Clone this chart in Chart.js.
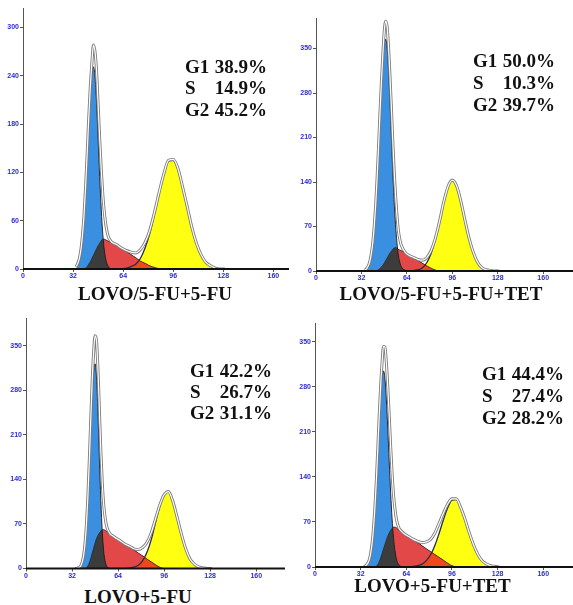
<!DOCTYPE html>
<html><head><meta charset="utf-8">
<script src="https://cdn.jsdelivr.net/npm/chart.js@4.4.1/dist/chart.umd.min.js"></script>
<style>
html,body{margin:0;padding:0;background:#fff;}
body{width:573px;height:605px;position:relative;overflow:hidden;}
canvas{position:absolute;}
.ann{position:absolute;font-family:"Liberation Serif","Times New Roman",serif;font-weight:bold;font-size:19px;color:#111;width:82px;z-index:2;}
.ann .row{display:flex;justify-content:space-between;}
.lab{position:absolute;width:300px;text-align:center;white-space:nowrap;font-family:"Liberation Serif","Times New Roman",serif;font-weight:bold;font-size:19px;line-height:21.5px;color:#111;z-index:2;}
</style></head><body>
<canvas id="c1" width="290" height="285" style="left:0;top:0"></canvas>
<canvas id="c2" width="283" height="285" style="left:290px;top:0"></canvas>
<canvas id="c3" width="286" height="285" style="left:0;top:300px"></canvas>
<canvas id="c4" width="283" height="285" style="left:290px;top:300px"></canvas>
<div id="texts"></div>
<script>
// DNA channel grid (shared by all panels)
const xs = [34,35,36,37,38,39,40,41,42,43,44,45,46,47,48,49,50,51,52,53,54,55,56,57,58,59,60,
            63,66,69,72,75,78,81,84,87,90,93,96,99,102,105,108,111,114,117,120,123,126,129];
const xTicks = [0,32,64,96,128,160];
const p1YTicks = [0,60,120,180,240,300];
const yTicks350 = [0,70,140,210,280,350];

// Panel 1: LOVO/5-FU+5-FU
const p1G1 = [3,6.5,13,24,42,67,101,140,181,217,242,251,239,207,162,115,74,43,23,11,5,2,0,0,0,0,0,
              0,0,0,0,0,0,0,0,0,0,0,0,0,0,0,0,0,0,0,0,0,0,0];
const p1S  = [0,0,0,0,0,0,1,3,6,9,13,17,21,25,29,32,35,37,37,36,35,34,33,32,31,30,29,
              26,22,18,14,10,7,4,2,0.5,0,0,0,0,0,0,0,0,0,0,0,0,0,0];
const p1G2 = [0,0,0,0,0,0,0,0,0,0,0,0,0,0,0,0,0,0,0,0,0,0,0,0,0,0,0,
              0,1,3,6,13,26,44,68,94,118,134,135,124,102,76,51,31,17,8,4,1,0,0];
const p1Tot= [3,7,13,24,42,67,102,143,187,226,255,278,270,246,205,162,124,92,70,54,44,38,35,33,32,31,30,
              26,23,21,20,24,33,48,70,95,118,135,136,125,102,77,51,31,17,8,4,1,0,0];

// Panel 2: LOVO/5-FU+5-FU+TET
const p2G1 = [1,2,5,9,16,28,45,70,103,144,191,242,289,329,356,365,353,320,271,216,160,112,73,45,25,14,7,
              1,0,0,0,0,0,0,0,0,0,0,0,0,0,0,0,0,0,0,0,0,0,0];
const p2S  = [0,0,0,0,0,0,0,0,0,1,2,4,6,9,12,16,20,24,28,31,34,36,37,36,34,33,32,
              28,24,20,16,12,8,4.5,1.5,0,0,0,0,0,0,0,0,0,0,0,0,0,0,0];
const p2G2 = [0,0,0,0,0,0,0,0,0,0,0,0,0,0,0,0,0,0,0,0,0,0,0,0,0,0,0,
              0,0,1,2,5,13,27,49,78,109,133,142,133,109,78,49,27,13,5,2,1,0,0];
const p2Tot= [1,2,5,9,16,28,45,70,103,145,193,246,295,338,375,393,386,356,312,262,208,160,120,88,64,50,41,
              29,24,21,18,17,21,32,51,78,109,133,143,134,110,79,50,28,13,5,2,1,0,0];

// Panel 3: LOVO+5-FU
const p3G1 = [0,0,1,2,4,10,20,39,68,109,161,218,271,308,322,301,245,174,107,58,27,11,4,1,0,0,0,
              0,0,0,0,0,0,0,0,0,0,0,0,0,0,0,0,0,0,0,0,0,0,0];
const p3S  = [0,0,0,0,0,0,0,0,1,4,9,16,24,32,40,47,52,56,59,61,61,60,58,56,55,53,52,
              47,43,38,33.5,29,24.5,20,15,10.5,6,2,0,0,0,0,0,0,0,0,0,0,0,0];
const p3G2 = [0,0,0,0,0,0,0,0,0,0,0,0,0,0,0,0,0,0,0,0,0,0,0,0,0,0,0,
              0,0,0,1,2,5,12,25,45,72,98,116,120,106,81,54,31,15,7,2.5,1,0,0];
const p3Tot= [0,0,1,2,4,10,20,39,69,113,170,234,295,340,366,358,314,250,185,135,100,80,67,60,56,53,52,
              47,43,38,35,31,30,33,41,56,78,100,116,121,106,81,54,31,15,7,2.5,1,0,0];

// Panel 4: LOVO+5-FU+TET
const p4G1 = [0,1,3,6,11,21,37,61,93,134,180,227,267,295,305,293,261,216,164,116,76,46,26,13,6,3,1,
              0,0,0,0,0,0,0,0,0,0,0,0,0,0,0,0,0,0,0,0,0,0,0];
const p4S  = [0,0,0,0,0,0,0,0,0,1,4,8,14,21,28,35,42,48,53,57,60,62,62,61,59,57,56,
              51,47,42,38,33,28.5,24,19.5,15,10.5,6,2,0.5,0,0,0,0,0,0,0,0,0,0];
const p4G2 = [0,0,0,0,0,0,0,0,0,0,0,0,0,0,0,0,0,0,0,0,0,0,0,0,0,0,0,
              0,0,1,2,4.5,10,19,33.5,52.5,73.5,92,104,105,93,75,54,35,20,10,5,2,1,0];
const p4Tot= [0,1,3,6,11,21,37,61,93,135,184,235,281,318,343,342,318,280,236,188,146,113,91,75,66,60,57,
              51,47,43,40,38,39,43,53,68,84,98,106,106,93,75,54,35,20,10,5,2,1,0];

const titles = ["LOVO/5-FU+5-FU","LOVO/5-FU+5-FU+TET","LOVO+5-FU","LOVO+5-FU+TET"];
const stats = [
  [["G1","38.9%"],["S","14.9%"],["G2","45.2%"]],
  [["G1","50.0%"],["S","10.3%"],["G2","39.7%"]],
  [["G1","42.2%"],["S","26.7%"],["G2","31.1%"]],
  [["G1","44.4%"],["S","27.4%"],["G2","28.2%"]]
];

// layout (positions only)
const panels = [
  {id:'c1', g1:p1G1, s:p1S, g2:p1G2, tot:p1Tot, yT:p1YTicks, yMax:324, xMax:170, yW:23, xH:16, padTop:8, padRight:1,
   ann:{left:185, top:55.6, lh:21.75}, lab:{cx:155, top:282.6}},
  {id:'c2', g1:p2G1, s:p2S, g2:p2G2, tot:p2Tot, yT:yTicks350, yMax:398, xMax:181, yW:26, xH:14, padTop:18, padRight:0,
   ann:{left:473, top:50, lh:22}, lab:{cx:441, top:283}},
  {id:'c3', g1:p3G1, s:p3S, g2:p3G2, tot:p3Tot, yT:yTicks350, yMax:394, xMax:180, yW:26, xH:16.5, padTop:18, padRight:1,
   ann:{left:190, top:359.6, lh:21}, lab:{cx:138, top:585.6}},
  {id:'c4', g1:p4G1, s:p4S, g2:p4G2, tot:p4Tot, yT:yTicks350, yMax:379.5, xMax:180.8, yW:25, xH:18, padTop:23, padRight:0,
   ann:{left:482, top:363, lh:21.75}, lab:{cx:432.5, top:574.6}}
];

const COL = {blue:'#3a8fe0', yellow:'#ffff12', black:'#3c3c3c', red:'#e34848', orange:'#f0481a', none:'rgba(0,0,0,0)'};

const axisLine = {
  id:'axisLine',
  afterDatasetsDraw(chart){
    const {ctx, chartArea:a} = chart;
    ctx.save();
    ctx.strokeStyle = '#111'; ctx.lineWidth = 2;
    ctx.beginPath(); ctx.moveTo(a.left, a.bottom); ctx.lineTo(a.right, a.bottom); ctx.stroke();
    ctx.restore();
  }
};

Chart.defaults.font.family = '"Liberation Sans", Arial, sans-serif';

function pts(arr, from){ return arr.map((v,i)=>({x: xs[i], y: (from===undefined || i>=from) ? v : null})); }

panels.forEach(p => {
  const pk = p.g1.indexOf(Math.max(...p.g1));
  let cut = pk; while (cut < p.g1.length && p.g1[cut] !== 0) cut++;
  const base = {type:'line', pointRadius:0, borderWidth:0, borderColor:COL.none, cubicInterpolationMode:'monotone', spanGaps:false};
  const ds = [
    {...base, data:pts(p.g1), fill:'origin', backgroundColor:COL.blue},                                   // 0
    {...base, data:pts(p.g2), fill:'origin', backgroundColor:COL.yellow},                                 // 1
    {...base, data:pts(p.s), fill:'origin', backgroundColor:COL.black},                                   // 2
    {...base, data:pts(p.s), fill:{target:0, above:COL.red, below:COL.none}},                             // 3
    {...base, data:pts(p.s, cut+1), fill:'origin', backgroundColor:COL.orange},                           // 4
    {...base, data:pts(p.s, cut), fill:{target:1, above:COL.red, below:COL.none}},                        // 5
    {...base, data:pts(p.g2), fill:false, borderColor:'#2a2a48', borderWidth:1.3},                         // 6
    {...base, data:pts(p.s), fill:false, borderColor:'#2a2a2a', borderWidth:0.8},                          // 7
    {...base, data:pts(p.g1), fill:false, borderColor:'#1e1e1e', borderWidth:0.9},                         // 8
    {...base, data:pts(p.tot), fill:false, borderColor:'#7c7c7c', borderWidth:3},                          // 9
    {...base, data:pts(p.tot), fill:false, borderColor:'#ffffff', borderWidth:1.2}                         // 10
  ];
  ds.forEach((d,i)=>{ d.order = 20 - i; });
  const tickFont = {size:7, weight:'bold'};
  new Chart(document.getElementById(p.id), {
    type:'line',
    data:{datasets:ds},
    options:{
      responsive:false, animation:false, devicePixelRatio:1,
      layout:{padding:{top:p.padTop, right:p.padRight, left:0, bottom:0}},
      plugins:{legend:{display:false}, tooltip:{enabled:false}},
      scales:{
        x:{type:'linear', min:0, max:p.xMax,
           afterBuildTicks:s=>{ s.ticks = xTicks.map(v=>({value:v})); },
           afterFit:s=>{ s.height = p.xH; },
           ticks:{autoSkip:false, maxRotation:0, font:tickFont, color:'#2c2cd0', padding:0},
           grid:{display:true, drawOnChartArea:false, drawTicks:true, tickLength:3, color:'#555'},
           border:{display:false}},
        y:{type:'linear', min:0, max:p.yMax,
           afterBuildTicks:s=>{ s.ticks = p.yT.map(v=>({value:v})); },
           afterFit:s=>{ s.width = p.yW; },
           ticks:{autoSkip:false, font:tickFont, color:'#2c2cd0', padding:1},
           grid:{display:true, drawOnChartArea:false, drawTicks:true, tickLength:3, color:'#555'},
           border:{display:true, color:'#555', width:1}}
      }
    },
    plugins:[axisLine]
  });
});

// text overlays
const host = document.getElementById('texts');
panels.forEach((p, k) => {
  const a = document.createElement('div');
  a.className = 'ann';
  a.style.left = p.ann.left + 'px'; a.style.top = p.ann.top + 'px'; a.style.lineHeight = p.ann.lh + 'px';
  stats[k].forEach(r => {
    const row = document.createElement('div'); row.className = 'row';
    const l = document.createElement('span'); l.textContent = r[0];
    const v = document.createElement('span'); v.textContent = r[1];
    row.appendChild(l); row.appendChild(v); a.appendChild(row);
  });
  host.appendChild(a);
  const t = document.createElement('div');
  t.className = 'lab';
  t.style.left = (p.lab.cx - 150) + 'px'; t.style.top = p.lab.top + 'px';
  t.textContent = titles[k];
  host.appendChild(t);
});
</script>
</body></html>
